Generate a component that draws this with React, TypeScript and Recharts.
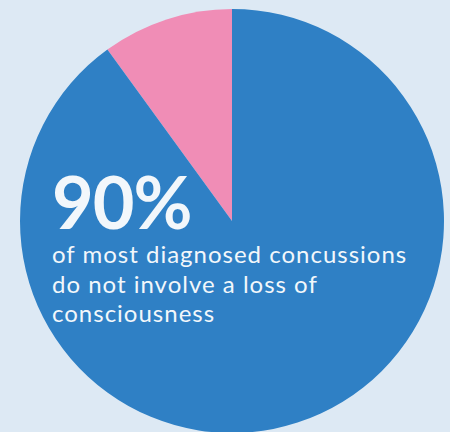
import React from 'react';
import { PieChart, Pie, Cell } from 'recharts';

const categories = ['Loss of consciousness', 'No loss of consciousness'];
const shares = [10, 90];
const sliceColors = ['#f08db6', '#2f80c5'];
const headline = '90%';
const captionLines = [
  'of most diagnosed concussions',
  'do not involve a loss of',
  'consciousness',
];

const data = categories.map((name, i) => ({ name, value: shares[i] }));

export default function App() {
  return (
    <div
      style={{
        position: 'absolute',
        top: 0,
        left: 0,
        width: 450,
        height: 432,
        background: '#dde9f4',
        overflow: 'hidden',
        fontFamily: 'Lato, "Open Sans", sans-serif',
      }}
    >
      <PieChart width={450} height={432} margin={{ top: 0, right: 0, bottom: 0, left: 0 }}>
        <Pie
          data={data}
          dataKey="value"
          nameKey="name"
          cx={232}
          cy={221}
          outerRadius={212}
          startAngle={90}
          endAngle={450}
          stroke="none"
          isAnimationActive={false}
        >
          {data.map((d, i) => (
            <Cell key={d.name} fill={sliceColors[i]} />
          ))}
        </Pie>
      </PieChart>
      <div
        style={{
          position: 'absolute',
          left: 52,
          top: 165,
          color: '#f2f7fb',
        }}
      >
        <div style={{ fontSize: 72, fontWeight: 700, lineHeight: '72px', letterSpacing: -1 }}>
          {headline}
        </div>
        <div style={{ fontSize: 24, lineHeight: '29.5px', marginTop: 2, letterSpacing: 1, whiteSpace: 'nowrap' }}>
          {captionLines.map((l) => (
            <div key={l}>{l}</div>
          ))}
        </div>
      </div>
    </div>
  );
}
